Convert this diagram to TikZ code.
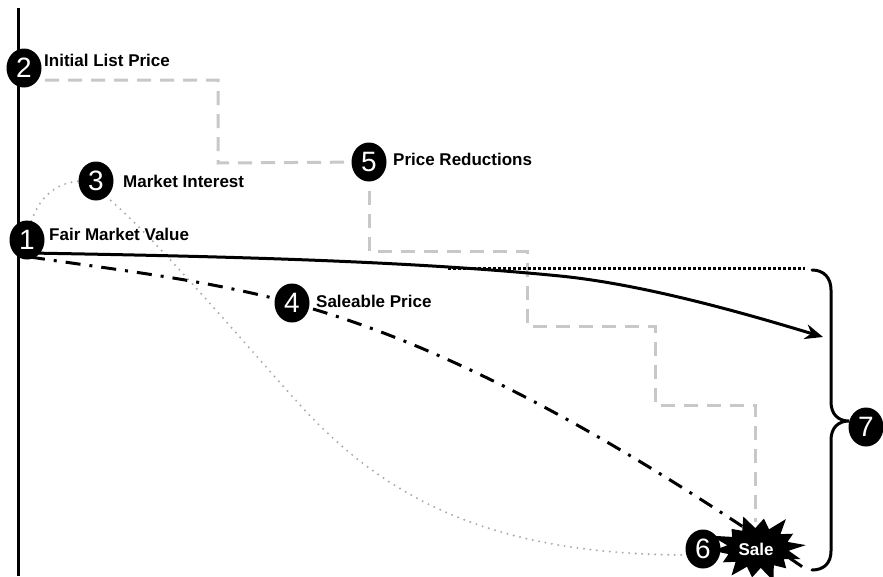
\documentclass[tikz,border=0pt]{standalone}
\usepackage{fontspec}
\setmainfont{Liberation Sans}
\usetikzlibrary{shapes.geometric,arrows.meta,backgrounds}
\definecolor{stepgray}{RGB}{200,200,200}
\definecolor{dotgray}{RGB}{170,170,170}
\begin{document}
\begin{tikzpicture}[x=1pt,y=-1pt,
  num/.style={ellipse, fill=black, text=white, minimum width=35pt, minimum height=39pt, inner sep=0pt, font=\fontsize{28}{28}\selectfont},
  lbl/.style={anchor=base west, inner sep=0pt, font=\bfseries\fontsize{17}{20}\selectfont},
  stepline/.style={stepgray, line width=3pt, dash pattern=on 14pt off 9pt},
  interest/.style={dotgray, line width=2.2pt, line cap=round, dash pattern=on 0pt off 6.5pt},
  saleable/.style={black, line width=3pt, dash pattern=on 15pt off 9pt on 3pt off 9pt},
  fmv/.style={black, line width=3pt, -{Stealth[length=18pt,width=15pt]}},
  level/.style={black, line width=3pt, dash pattern=on 3pt off 2pt},
  bracestyle/.style={black, line width=3pt, line cap=round},
  axisline/.style={black, line width=3pt},
  burstfill/.style={fill=black},
  saletext/.style={text=white, inner sep=0pt, font=\bfseries\fontsize{17}{20}\selectfont}]
\useasboundingbox (0,0) rectangle (883,576);

% sale starburst
\fill[burstfill] (805.8,545.1) -- (787.5,541.9) -- (793.1,533.7) -- (780.4,534.2)
  -- (785.9,519.1) -- (769.0,529.3) -- (763.9,518.6) -- (755.3,528.1)
  -- (743.3,516.6) -- (742.2,530.8) -- (731.5,528.9) -- (732.2,536.9)
  -- (710.9,535.7) -- (727.3,545.3) -- (712.6,550.7) -- (728.5,554.1)
  -- (722.9,562.3) -- (735.6,561.8) -- (731.5,575.5) -- (747.0,566.7)
  -- (752.1,577.4) -- (760.7,567.9) -- (773.5,580.9) -- (773.8,565.2)
  -- (786.2,568.3) -- (783.8,559.1) -- (800.6,559.1) -- (788.7,550.7) -- cycle;
\node[saletext] (sale) at (756,549) {Sale};

% number markers
\node[num] (n2) at (24,68) {2};
\node[num] (n1) at (27,240) {1};
\node[num] (n3) at (96,181) {3};
\node[num] (n5) at (369,162) {5};
\node[num] (n4) at (292,303) {4};
\node[num] (n6) at (703,549) {6};
\node[num] (n7) at (866,427) {7};

% labels
\node[lbl] (t2) at (44,66) {Initial List Price};
\node[lbl] (t3) at (123,187) {Market Interest};
\node[lbl] (t1) at (49,240) {Fair Market Value};
\node[lbl] (t5) at (393,165) {Price Reductions};
\node[lbl] (t4) at (316,307) {Saleable Price};

% free ends
\coordinate (axtop) at (18,8);
\coordinate (axbot) at (18,576);
\coordinate (stepA) at (45,80);
\coordinate (fmvstart) at (30,253);
\coordinate (fmvtip) at (823,337);
\coordinate (salestart) at (30,257);
\coordinate (saleend) at (807,570);
\coordinate (levA) at (448,268);
\coordinate (levB) at (805,268);
\coordinate (brTop) at (812,270);
\coordinate (brBot) at (812,570);
\coordinate (brTip) at (849,421);
\coordinate (intEnd) at (690,555);

\begin{scope}[on background layer]
  \draw[axisline] (axtop) -- (axbot);
  % price reductions steps
  \draw[stepline] (stepA) -- (218,80) -- (218,163) -- (n5);
  \draw[stepline, dash phase=14pt] (n5.south) -- (369,251) -- (527,251) -- (527,326)
        -- (655,326) -- (655,405) -- (755,405) -- (755,522);
  % market interest
  \draw[interest] (n1.center) .. controls (32,205) and (50,183) .. (80,181)
        .. controls (110,183) and (240,339) .. (300,405)
        .. controls (390,504) and (500,555) .. (intEnd);
  % saleable price
  \draw[saleable] (salestart) .. controls (117,270) and (205,279.5) .. (n4.center)
        .. controls (462,349) and (637,453) .. (saleend);
  % level line
  \draw[level] (levA) -- (levB);
  % fair market value
  \draw[fmv] (fmvstart) .. controls (200,256) and (400,260) .. (560,276)
        .. controls (650,285) and (760,318) .. (fmvtip);
  % brace
  \draw[bracestyle] (brTop) .. controls (824,270) and (831,278) .. (831,290) -- (831,402)
        .. controls (831,414) and (838,421) .. (brTip)
        .. controls (838,421) and (831,428) .. (831,440) -- (831,551)
        .. controls (831,563) and (824,570) .. (brBot);
\end{scope}
\end{tikzpicture}
\end{document}
